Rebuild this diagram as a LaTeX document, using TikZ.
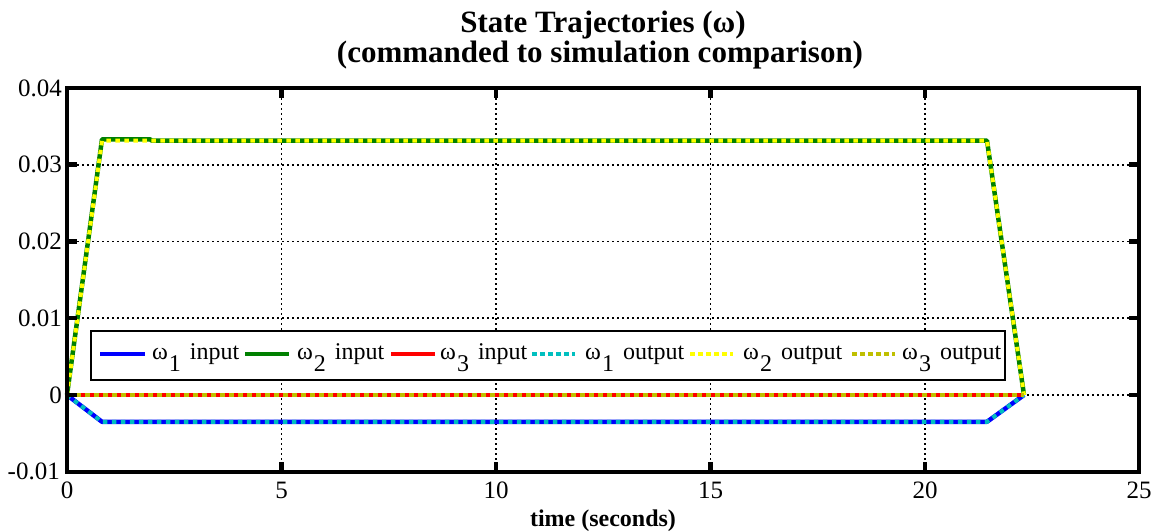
\documentclass[tikz,border=0pt]{standalone}
\usepackage{fontspec}
\setmainfont{Liberation Serif}
\definecolor{mblue}{rgb}{0,0,1}
\definecolor{mgreen}{rgb}{0,0.5,0}
\definecolor{mred}{rgb}{1,0,0}
\definecolor{mcyan}{rgb}{0,0.75,0.75}
\definecolor{myellow}{rgb}{1,1,0}
\definecolor{molive}{rgb}{0.75,0.75,0}
\newcommand{\wlab}[2]{ω\hspace{1bp}\raisebox{-12bp}{#1}\hspace{9bp}#2}
\tikzset{
  axisbox/.style={line width=4.5bp},
  tickmark/.style={line width=4.5bp},
  gridline/.style={line width=1.8bp, dash pattern=on 1.8bp off 3.2bp},
  inputline/.style={line width=4.5bp, line join=round},
  outputline/.style={line width=4bp, dash pattern=on 4.5bp off 4.5bp},
  ticklabel/.style={font=\fontsize{25bp}{28bp}\selectfont, inner sep=0pt},
  titletext/.style={font=\fontsize{31bp}{32bp}\selectfont\bfseries, inner sep=0pt, anchor=base},
  legtext/.style={font=\fontsize{24bp}{28bp}\selectfont, inner sep=0pt, anchor=base west},
  legbox/.style={draw=black, fill=white, line width=2bp},
  legline/.style={line width=4.5bp},
  legdots/.style={line width=4.5bp, dash pattern=on 4.5bp off 3.5bp}
}
\begin{document}
\begin{tikzpicture}[x=1bp,y=-1bp]
\useasboundingbox[fill=white] (0,0) rectangle (1161,532);
% grid
\foreach \gx in {281.5,496,710.5,925}
  \draw[gridline] (\gx,88) -- (\gx,472);
\foreach \gy in {164.75,241.5,318.25,395}
  \draw[gridline] (67,\gy) -- (1139,\gy);
% input curves
\draw[inputline, mblue] (67,395) -- (102,421.8) -- (987,421.8) -- (1024,395);
\draw[inputline, mgreen] (67,395) -- (102,139.3) -- (150,139.3) -- (152,140.7) -- (987,140.7) -- (1024,395);
\draw[inputline, mred] (67,395) -- (1024,395);
% output curves
\draw[outputline, mcyan] (67,395) -- (102,421.8) -- (987,421.8) -- (1024,395);
\draw[outputline, myellow] (67,395) -- (102,140.7) -- (987,140.7) -- (1024,395);
\draw[outputline, molive] (67,395) -- (1024,395);
% axes box and ticks
\draw[axisbox] (67,88) rectangle (1139,472);
\foreach \gx in {281.5,496,710.5,925}{
  \draw[tickmark] (\gx,472) -- (\gx,462);
  \draw[tickmark] (\gx,88) -- (\gx,98);
}
\foreach \gy in {164.75,241.5,318.25,395}{
  \draw[tickmark] (67,\gy) -- (77,\gy);
  \draw[tickmark] (1139,\gy) -- (1129,\gy);
}
% tick labels
\node[ticklabel, anchor=east] (y4) at (62,88) {0.04};
\node[ticklabel, anchor=east] (y3) at (62,164.75) {0.03};
\node[ticklabel, anchor=east] (y2) at (62,241.5) {0.02};
\node[ticklabel, anchor=east] (y1) at (62,318.25) {0.01};
\node[ticklabel, anchor=east] (y0) at (62,395) {0};
\node[ticklabel, anchor=east] (ym) at (60,471) {-0.01};
\node[ticklabel, anchor=base] (x0) at (67,498) {0};
\node[ticklabel, anchor=base] (x5) at (281.5,498) {5};
\node[ticklabel, anchor=base] (x10) at (496,498) {10};
\node[ticklabel, anchor=base] (x15) at (710.5,498) {15};
\node[ticklabel, anchor=base] (x20) at (925,498) {20};
\node[ticklabel, anchor=base] (x25) at (1139,498) {25};
% titles
\node[titletext] (t1) at (603,33) {State Trajectories (ω)};
\node[titletext] (t2) at (600,63) {(commanded to simulation comparison)};
\node[titletext, font=\fontsize{24bp}{26bp}\selectfont\bfseries] (xl) at (603,526) {time (seconds)};
% legend
\draw[legbox] (91,331) rectangle (1005,380);
\draw[legline, mblue] (100,354) -- (145,354);
\node[legtext] (l1) at (152,360) {\wlab{1}{input}};
\draw[legline, mgreen] (245,354) -- (289,354);
\node[legtext] (l2) at (297,360) {\wlab{2}{input}};
\draw[legline, mred] (391,354) -- (435,354);
\node[legtext] (l3) at (440,360) {\wlab{3}{input}};
\draw[legdots, mcyan] (532,354) -- (575,354);
\node[legtext] (l4) at (585,360) {\wlab{1}{output}};
\draw[legdots, myellow] (690,354) -- (733,354);
\node[legtext] (l5) at (743,360) {\wlab{2}{output}};
\draw[legdots, molive] (852,354) -- (895,354);
\node[legtext] (l6) at (902,360) {\wlab{3}{output}};
\end{tikzpicture}
\end{document}
